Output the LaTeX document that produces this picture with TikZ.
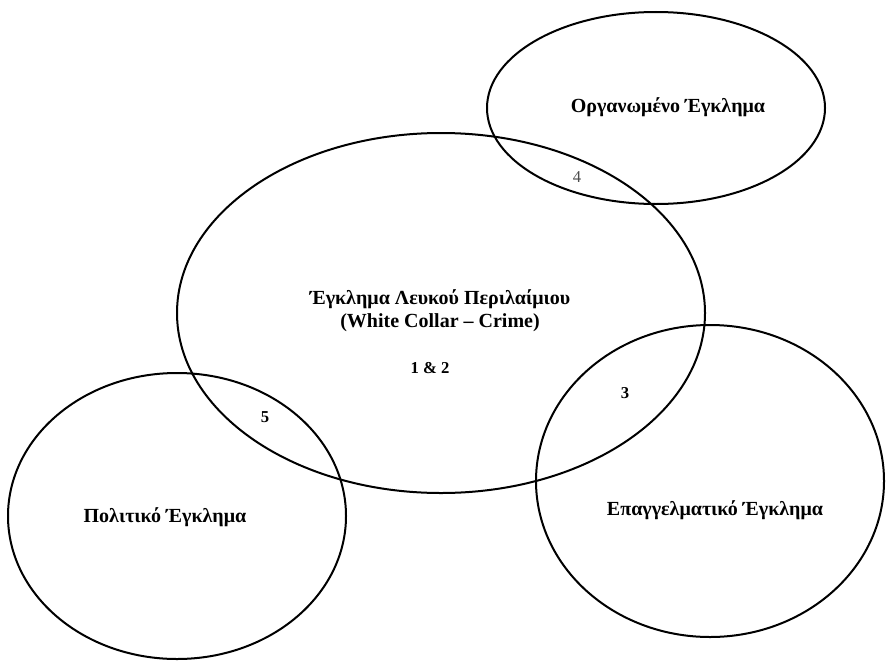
\documentclass[tikz,border=0pt]{standalone}
\usepackage{fontspec}
\setmainfont{Liberation Serif}
\begin{document}
\begin{tikzpicture}[x=0.75pt, y=-0.75pt, line width=1.5pt,
    title/.style={font=\fontsize{15}{17.25}\selectfont\bfseries, align=center},
    region/.style={font=\fontsize{12.5}{14}\selectfont\bfseries}]
    \useasboundingbox (0, 0) rectangle (887, 660);

    \draw (656, 108) ellipse [x radius=169, y radius=96];
    \draw (441, 313) ellipse [x radius=264, y radius=180];
    \draw (177, 516) ellipse [x radius=169, y radius=143];
    \draw (710, 481) ellipse [x radius=174, y radius=156];

    \node[title] (organised) at (668, 107) {Οργανωμένο Έγκλημα};
    \node[title] (whitecollar) at (440, 311) {Έγκλημα Λευκού Περιλαίμιου\\(White Collar – Crime)};
    \node[title] (political) at (165, 517) {Πολιτικό Έγκλημα};
    \node[title] (professional) at (715, 510) {Επαγγελματικό Έγκλημα};

    \node[region] (both) at (430, 368) {1 \& 2};
    \node[region] (three) at (625, 393) {3};
    \node[region, font=\fontsize{12.5}{14}\selectfont, text=black!70] (four) at (577, 177) {4};
    \node[region] (five) at (265, 417) {5};

  \end{tikzpicture}
\end{document}
